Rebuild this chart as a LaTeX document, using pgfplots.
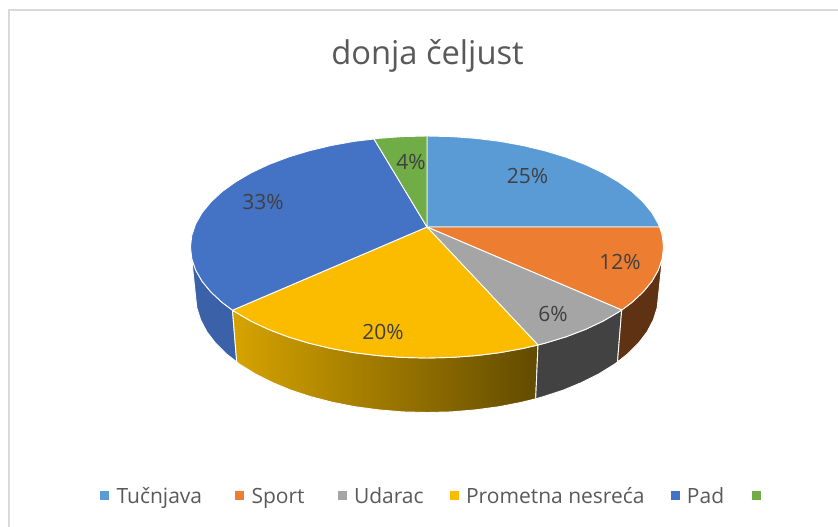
\documentclass[border=0pt]{standalone}
\usepackage{fontspec}
\setmainfont{Open Sans}
\usepackage{pgfplots}
\pgfplotsset{compat=1.18}
\definecolor{cA}{HTML}{5B9BD5}
\definecolor{cB}{HTML}{ED7D31}
\definecolor{cC}{HTML}{A5A5A5}
\definecolor{cD}{HTML}{FBBC00}
\definecolor{cE}{HTML}{4472C4}
\definecolor{cF}{HTML}{70AD47}
\definecolor{sB}{HTML}{5F3214}
\definecolor{sC}{HTML}{424242}
\definecolor{sE}{HTML}{3B62A8}
\definecolor{sDl}{HTML}{D6A300}
\definecolor{sDr}{HTML}{624B00}
\definecolor{txt}{HTML}{404040}
\definecolor{ttl}{HTML}{595959}
\definecolor{frm}{HTML}{D9D9D9}
\newcommand{\sq}[1]{\addlegendimage{legend image code/.code={\fill[#1] (0pt,-4pt) rectangle (8pt,4pt);}}}
\newcommand{\lgent}[2]{\addlegendentry{\strut\rule{8pt}{0pt}#1\rule{#2}{0pt}}}
\begin{document}
\begin{tikzpicture}
\path[use as bounding box] (0,0) rectangle (838pt,527pt);
\begin{axis}[
  scale only axis, width=838pt, height=527pt,
  xmin=0, xmax=838, ymin=0, ymax=527, y dir=reverse,
  hide axis, clip=false,
  legend columns=-1,
  legend style={at={(axis cs:100,495)}, anchor=west, draw=none, fill=none,
    inner sep=0pt, font=\fontsize{21}{25}\selectfont, text=ttl,
    nodes={inner sep=0pt, anchor=west}},
]
\sq{cA}\lgent{Tučnjava}{33pt}
\sq{cB}\lgent{Sport}{33pt}
\sq{cC}\lgent{Udarac}{26pt}
\sq{cD}\lgent{Prometna nesreća}{26pt}
\sq{cE}\lgent{Pad}{28pt}
\sq{cF}\addlegendentry{\strut}

% chart frame
\addplot[draw=frm, line width=1.5pt] coordinates {(9,527) (9,10) (838,10)};

% side walls
\addplot[fill=sE, draw=white, line width=0.9pt] coordinates {
 (232.5,310.2) (222.2,302.5) (211,292.1) (202.1,281.3) (195.7,270.1) (191.8,258.6) (190.5,247)
 (195.5,295.5) (196.8,307.7) (200.6,319.8) (206.8,331.7) (215.5,343.1) (226.5,354) (236.7,361.9)} -- cycle;
\addplot[left color=sDl, right color=sDr, draw=white, line width=0.9pt] coordinates {
 (538,345) (523.2,348.4) (500.1,352.6) (476.2,355.6) (451.7,357.4) (427,358) (402.3,357.4) (377.8,355.6)
 (353.9,352.6) (330.8,348.4) (308.7,343.1) (288,336.8) (268.8,329.5) (251.3,321.3) (235.7,312.2) (232.5,310.2)
 (236.7,361.9) (239.7,364.3) (255,373.8) (272.1,382.4) (290.9,390.2) (311.2,396.8) (332.8,402.4) (355.5,406.8)
 (378.9,409.9) (402.8,411.9) (427,412.5) (451.2,411.9) (475.1,409.9) (498.5,406.8) (521.2,402.4) (535.7,398.8)} -- cycle;
\addplot[fill=sC, draw=white, line width=0.9pt] coordinates {
 (621.7,310) (618.3,312.2) (602.7,321.3) (585.2,329.5) (566,336.8) (545.3,343.1) (538,345)
 (535.7,398.8) (542.8,396.8) (563.1,390.2) (581.9,382.4) (599,373.8) (614.3,364.3) (617.5,362)} -- cycle;
\addplot[fill=sB, draw=white, line width=0.9pt] coordinates {
 (663.5,247) (662.2,258.6) (658.3,270.1) (651.9,281.3) (643,292.1) (631.8,302.5) (621.7,310)
 (617.5,362) (627.5,354) (638.5,343.1) (647.2,331.7) (653.4,319.8) (657.2,307.7) (658.5,295.5)} -- cycle;

% top surface wedges
\addplot[fill=cA, draw=white, line width=0.9pt] coordinates {
 (427,227) (427,136) (451.7,136.6) (476.2,138.4) (500.1,141.4) (523.2,145.6) (545.3,150.9) (566,157.2)
 (585.2,164.5) (602.7,172.7) (618.3,181.8) (631.8,191.5) (643,201.9) (651.9,212.7) (658.3,223.9) (659.6,227)} -- cycle;
\addplot[fill=cB, draw=white, line width=0.9pt] coordinates {
 (427,227) (659.6,227) (662.2,235.4) (663.5,247) (662.2,258.6) (658.3,270.1) (651.9,281.3) (643,292.1)
 (631.8,302.5) (621.7,310)} -- cycle;
\addplot[fill=cC, draw=white, line width=0.9pt] coordinates {
 (427,227) (621.7,310) (618.3,312.2) (602.7,321.3) (585.2,329.5) (566,336.8) (545.3,343.1) (538,345)} -- cycle;
\addplot[fill=cD, draw=white, line width=0.9pt] coordinates {
 (427,227) (538,345) (523.2,348.4) (500.1,352.6) (476.2,355.6) (451.7,357.4) (427,358) (402.3,357.4) (377.8,355.6)
 (353.9,352.6) (330.8,348.4) (308.7,343.1) (288,336.8) (268.8,329.5) (251.3,321.3) (235.7,312.2) (232.5,310.2)} -- cycle;
\addplot[fill=cE, draw=white, line width=0.9pt] coordinates {
 (427,227) (232.5,310.2) (222.2,302.5) (211,292.1) (202.1,281.3) (195.7,270.1) (191.8,258.6) (190.5,247)
 (191.8,235.4) (195.7,223.9) (202.1,212.7) (211,201.9) (222.2,191.5) (235.7,181.8) (251.3,172.7) (268.8,164.5)
 (288,157.2) (308.7,150.9) (330.8,145.6) (353.9,141.4) (374,139)} -- cycle;
\addplot[fill=cF, draw=white, line width=0.9pt] coordinates {
 (427,227) (374,139) (377.8,138.4) (402.3,136.6) (427,136)} -- cycle;

% labels
\node[text=txt, font=\fontsize{21}{25}\selectfont] at (axis cs:527.5,176) {25\%};
\node[text=txt, font=\fontsize{21}{25}\selectfont] at (axis cs:620,262) {12\%};
\node[text=txt, font=\fontsize{21}{25}\selectfont] at (axis cs:553,314) {6\%};
\node[text=txt, font=\fontsize{21}{25}\selectfont] at (axis cs:383,332) {20\%};
\node[text=txt, font=\fontsize{21}{25}\selectfont] at (axis cs:263,202) {33\%};
\node[text=txt, font=\fontsize{21}{25}\selectfont] at (axis cs:411,162) {4\%};
\node[text=ttl, font=\fontsize{32.7}{40}\selectfont, anchor=base] at (axis cs:427.5,65) {donja čeljust};
\end{axis}
\end{tikzpicture}
\end{document}
